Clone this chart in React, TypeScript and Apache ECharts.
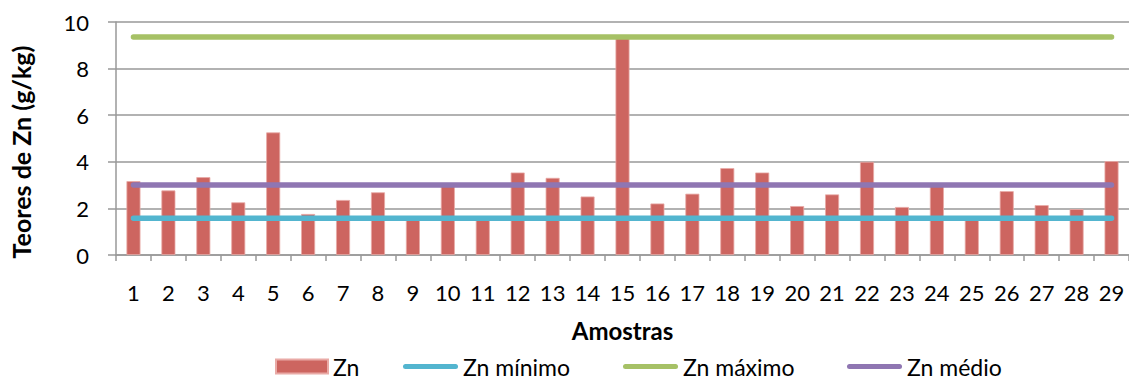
import React, { useEffect, useRef } from "react";
import * as echarts from "echarts";

const categories = ["1","2","3","4","5","6","7","8","9","10","11","12","13","14","15","16","17","18","19","20","21","22","23","24","25","26","27","28","29"];
const znValues = [3.17, 2.77, 3.34, 2.26, 5.26, 1.76, 2.36, 2.69, 1.58, 2.98, 1.6, 3.54, 3.31, 2.51, 9.36, 2.21, 2.63, 3.73, 3.54, 2.1, 2.6, 4.0, 2.06, 3.0, 1.62, 2.74, 2.14, 1.97, 4.03];
const znMin = 1.58;
const znMax = 9.36;
const znMean = 3.0;
const seriesNames = ["Zn", "Zn mínimo", "Zn máximo", "Zn médio"];
const yTicks = { min: 0, max: 10, interval: 2 };

const FONT = "Lato";
const colors = { bar: "#CD6560", min: "#53B5CF", max: "#A6C166", mean: "#8F76B2" };
const LINE_ICON = "path://M2.5,0 H52.5 A2.5,2.5 0 0 1 52.5,5 H2.5 A2.5,2.5 0 0 1 2.5,0 Z";

export default function App() {
  const ref = useRef<HTMLDivElement>(null);
  useEffect(() => {
    if (!ref.current) return;
    const chart = echarts.init(ref.current, undefined, { renderer: "svg" });
    const flat = (v: number) => categories.map(() => v);
    const lineSeries = (name: string, v: number, color: string) => ({
      name,
      type: "line",
      data: flat(v),
      symbol: "none",
      lineStyle: { color, width: 5.5, cap: "round" },
      itemStyle: { color },
      z: 3,
    });
    const legendPos = [275, 403, 623, 847];
    chart.setOption({
      animation: false,
      textStyle: { fontFamily: FONT },
      grid: { left: 116, right: -5, top: 22, bottom: 124 },
      legend: seriesNames.map((n, i) => ({
        data: [n],
        left: legendPos[i],
        top: 355,
        itemWidth: i === 0 ? 52 : 55,
        itemHeight: i === 0 ? 14 : 5,
        itemGap: 5,
        padding: 0,
        textStyle: { fontFamily: FONT, fontSize: 23, lineHeight: 22, color: "#000", padding: [0, 0, 0, 0] },
        icon: i === 0 ? "rect" : LINE_ICON,
      })),
      xAxis: {
        type: "category",
        data: categories,
        name: "Amostras",
        nameLocation: "middle",
        nameGap: 63,
        nameTextStyle: { fontFamily: FONT, fontSize: 24, fontWeight: "bold", color: "#000" },
        axisLine: { lineStyle: { color: "#999", width: 1.5 } },
        axisTick: { show: true, length: 6, lineStyle: { color: "#999", width: 1.5 } },
        axisLabel: { fontFamily: FONT, fontSize: 22, color: "#000", margin: 26, interval: 0 },
      },
      yAxis: {
        type: "value",
        min: yTicks.min,
        max: yTicks.max,
        interval: yTicks.interval,
        axisLine: { show: true, lineStyle: { color: "#999", width: 1.5 } },
        axisTick: { show: true, length: 8, lineStyle: { color: "#999", width: 1.5 } },
        splitLine: { lineStyle: { color: "#999", width: 1.5 } },
        axisLabel: { fontFamily: FONT, fontSize: 22, color: "#000", margin: 27 },
      },
      graphic: [
        {
          type: "text",
          x: 21,
          y: 152,
          rotation: Math.PI / 2,
          style: {
            text: "Teores de Zn (g/kg)",
            font: `bold 25px ${FONT}`,
            fill: "#000",
            textAlign: "center",
            textVerticalAlign: "middle",
          },
        },
      ],
      series: [
        {
          name: seriesNames[0],
          type: "bar",
          data: znValues,
          barWidth: 14,
          itemStyle: { color: colors.bar, borderColor: "#E9AAA6", borderWidth: 0.8 },
          z: 2,
        },
        lineSeries(seriesNames[1], znMin, colors.min),
        lineSeries(seriesNames[2], znMax, colors.max),
        lineSeries(seriesNames[3], znMean, colors.mean),
      ],
    });
    return () => chart.dispose();
  }, []);
  return (
    <div
      ref={ref}
      style={{ position: "absolute", left: 0, top: 0, width: 1129, height: 379, background: "#fff" }}
    />
  );
}
